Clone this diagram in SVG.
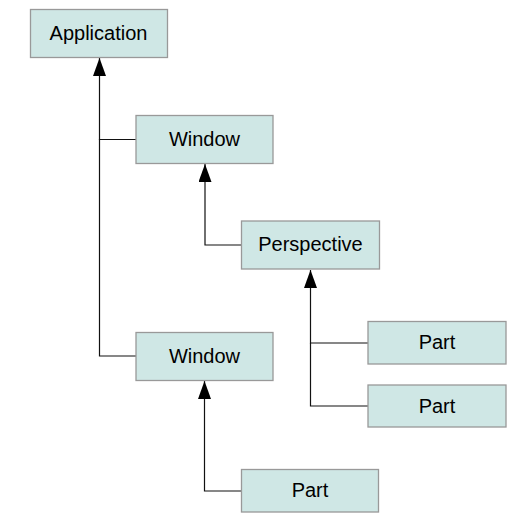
<svg xmlns="http://www.w3.org/2000/svg" width="528" height="523" viewBox="0 0 528 523">
<defs>
<style>
.box{fill:#cfe7e5;stroke:#999;stroke-width:1.3}
.lbl{font-family:"Liberation Sans",Arial,sans-serif;font-size:20px;fill:#000;text-anchor:middle}
.ln{fill:none;stroke:#111;stroke-width:1.2}
</style>
<marker id="arr" viewBox="0 0 18 13" refX="18" refY="6.5" markerWidth="18" markerHeight="13" markerUnits="userSpaceOnUse" orient="auto">
<path d="M0,0 L18,6.5 L0,13 Z" fill="#000"/>
</marker>
</defs>
<rect width="528" height="523" fill="#fff"/>
<g id="connectors">
<path class="ln" d="M136,139.5 H99.5 V58" marker-end="url(#arr)"/>
<path class="ln" d="M136,356 H99.5 V139"/>
<path class="ln" d="M241.5,245 H205 V164" marker-end="url(#arr)"/>
<path class="ln" d="M368,343 H310.5 V270" marker-end="url(#arr)"/>
<path class="ln" d="M368,406 H310.5 V343"/>
<path class="ln" d="M241.5,491 H204.5 V381" marker-end="url(#arr)"/>
</g>
<g id="application"><rect class="box" x="30.5" y="9.5" width="137" height="48"/><text class="lbl" x="98.5" y="39.8">Application</text></g>
<g id="window1"><rect class="box" x="136" y="115.5" width="137" height="48"/><text class="lbl" x="204.5" y="145.8">Window</text></g>
<g id="perspective"><rect class="box" x="241.5" y="221" width="138" height="48"/><text class="lbl" x="310.5" y="251.3">Perspective</text></g>
<g id="part1"><rect class="box" x="368" y="321.5" width="138" height="42.5"/><text class="lbl" x="437" y="349">Part</text></g>
<g id="part2"><rect class="box" x="368" y="385" width="138" height="42"/><text class="lbl" x="437" y="412.5">Part</text></g>
<g id="window2"><rect class="box" x="136" y="332.5" width="137" height="48"/><text class="lbl" x="204.5" y="362.8">Window</text></g>
<g id="part3"><rect class="box" x="241.5" y="469.5" width="137" height="42.5"/><text class="lbl" x="310" y="497">Part</text></g>
</svg>
